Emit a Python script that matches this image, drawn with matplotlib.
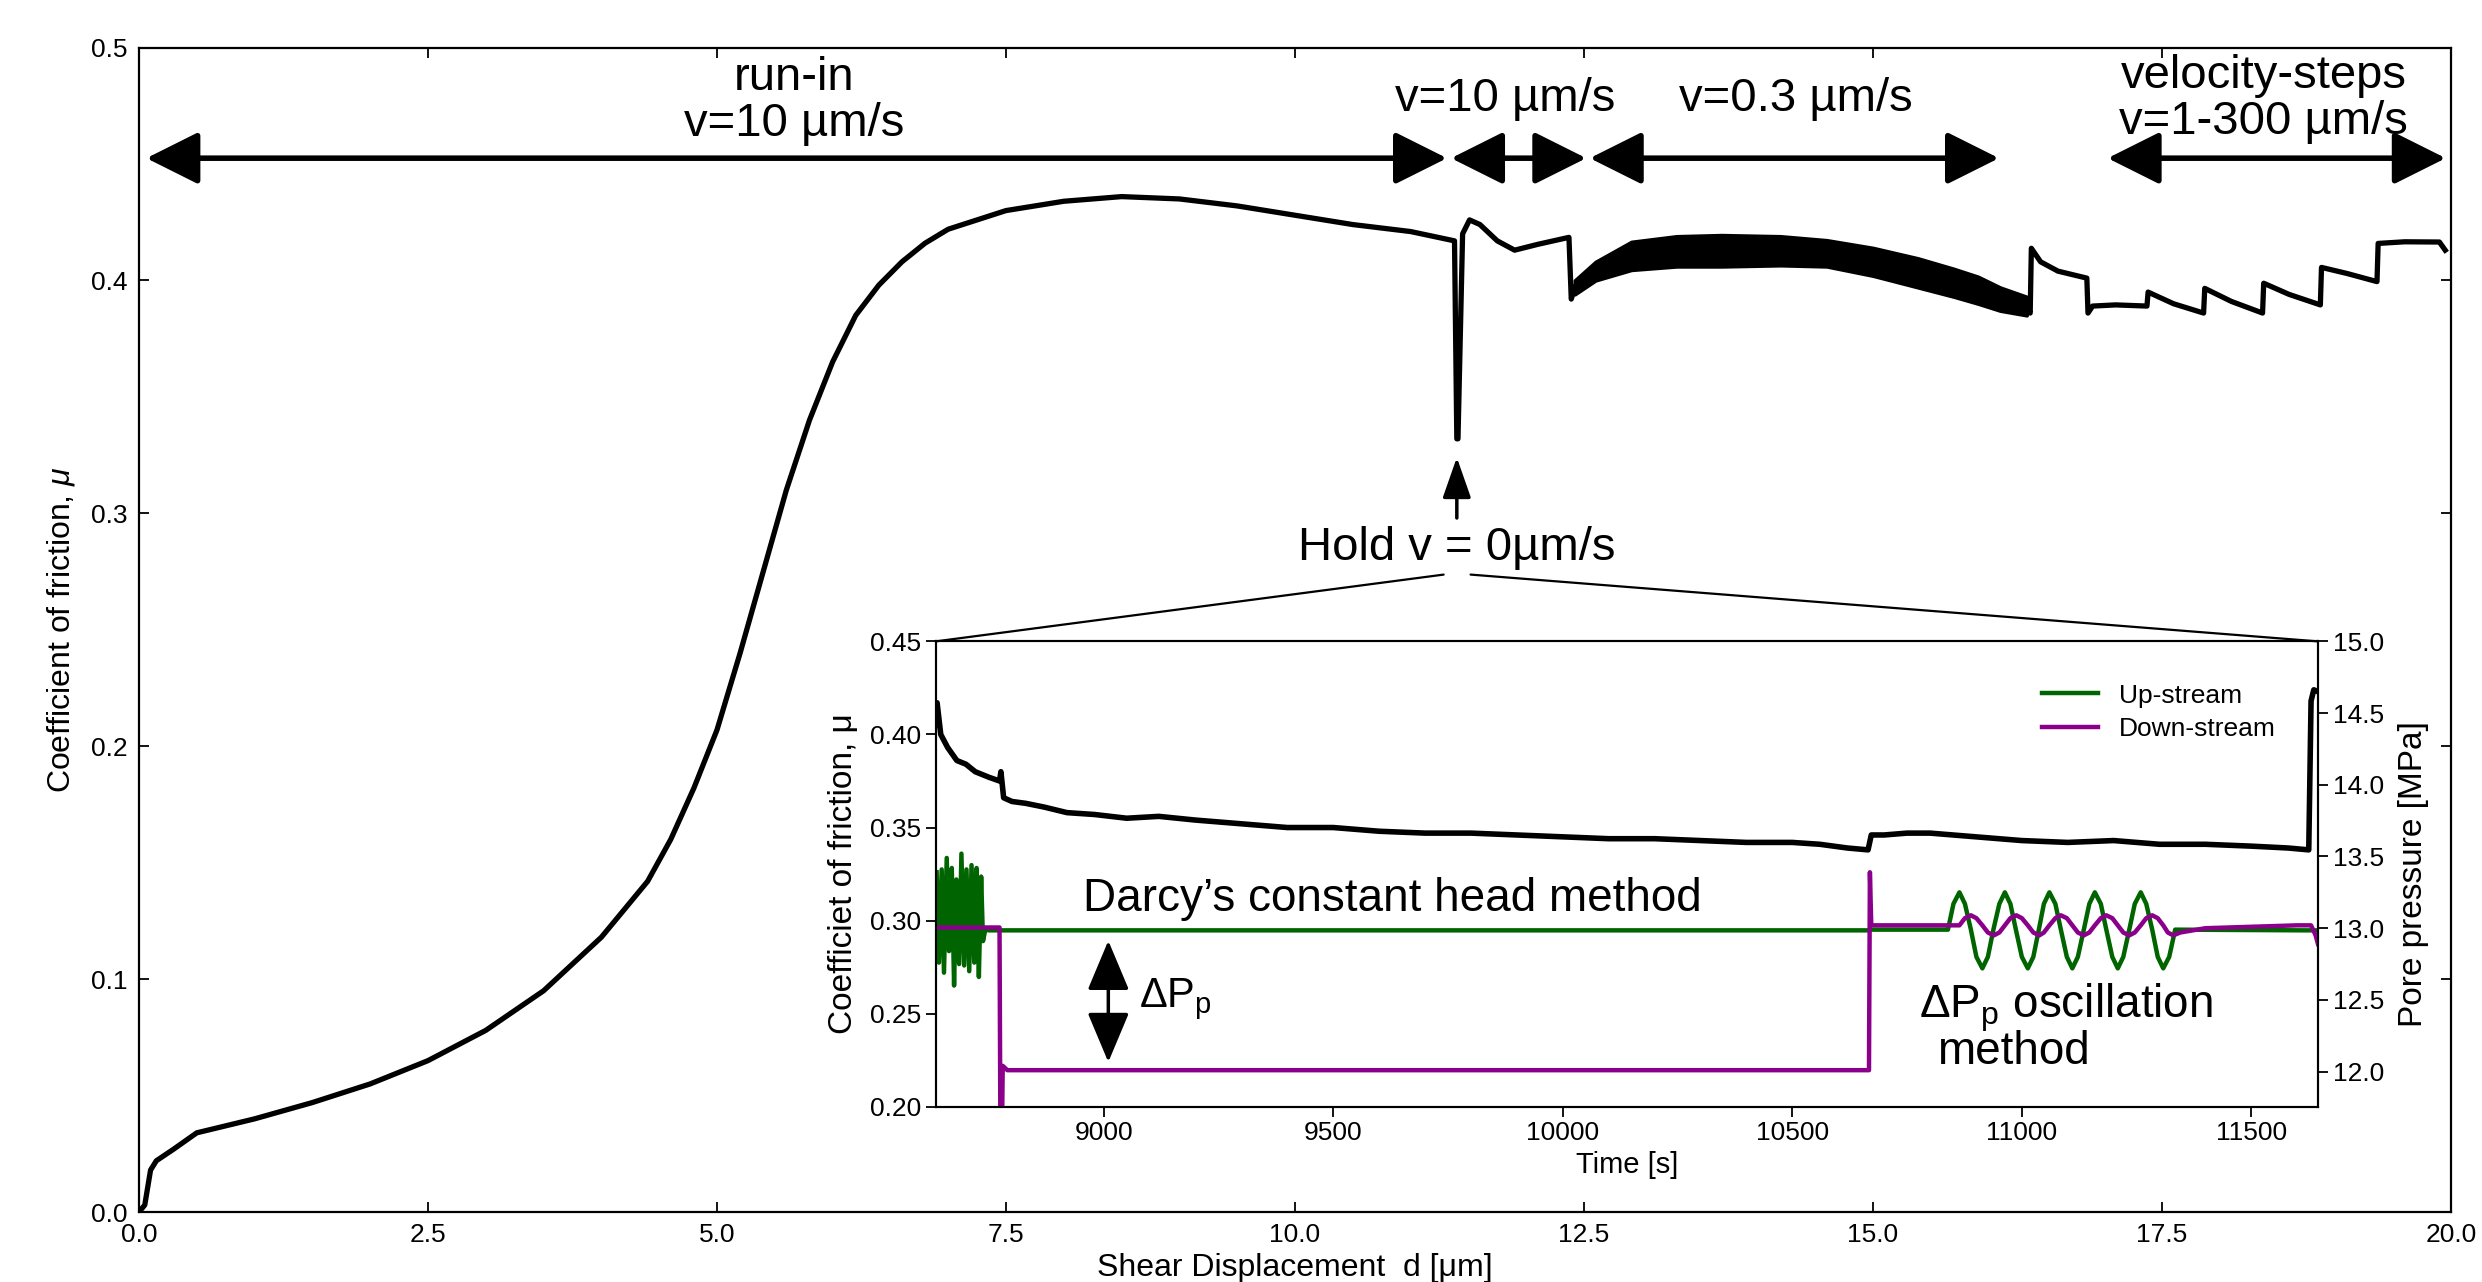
import matplotlib
matplotlib.use("Agg")
import matplotlib.pyplot as plt
from matplotlib.patches import ConnectionPatch
import numpy as np

plt.rcParams['font.family'] = ['Liberation Sans', 'DejaVu Sans']
plt.rcParams['mathtext.fontset'] = 'custom'
plt.rcParams['mathtext.rm'] = 'Liberation Sans'
plt.rcParams['mathtext.it'] = 'Liberation Sans:italic'

# ---- main curve: friction vs shear displacement
disp = [0, 0.05, 0.1, 0.15, 0.3, 0.5, 0.75, 1.0, 1.5, 2.0, 2.5, 3.0, 3.5, 4.0, 4.4, 4.6,
        4.8, 5.0, 5.2, 5.4, 5.6, 5.8, 6.0, 6.2, 6.4, 6.6, 6.8, 7.0, 7.5, 8.0, 8.5, 9.0,
        9.5, 10.0, 10.5, 11.0, 11.38,
        11.40, 11.41, 11.45, 11.51, 11.6, 11.75, 11.9, 12.1, 12.37, 12.39, 12.42]
mu = [0, 0.003, 0.018, 0.022, 0.027, 0.034, 0.037, 0.040, 0.047, 0.055, 0.065, 0.078, 0.095,
      0.118, 0.142, 0.160, 0.182, 0.207, 0.240, 0.275, 0.310, 0.340, 0.365, 0.385, 0.398,
      0.408, 0.416, 0.422, 0.430, 0.434, 0.436, 0.435, 0.432, 0.428, 0.424, 0.421, 0.417,
      0.332, 0.332, 0.420, 0.426, 0.424, 0.417, 0.413, 0.4155, 0.4185, 0.392, 0.397]

# slow (v=0.3) section shows a thick oscillating band
band_disp = [12.42, 12.6, 12.91, 13.3, 13.69, 14.2, 14.6, 15.0, 15.39, 15.7, 15.91, 16.1, 16.33]
band_lo = [0.394, 0.400, 0.4045, 0.406, 0.406, 0.4065, 0.406, 0.402, 0.397, 0.393, 0.390, 0.387, 0.385]
band_hi = [0.400, 0.408, 0.4166, 0.419, 0.4195, 0.419, 0.4173, 0.414, 0.4095, 0.405, 0.4016, 0.397, 0.393]

# velocity steps
steps_disp = [16.33, 16.36, 16.37, 16.45, 16.6, 16.85, 16.86, 16.9, 17.1, 17.37, 17.38, 17.6,
              17.86, 17.87, 18.1, 18.37, 18.38, 18.6, 18.87, 18.88, 19.1, 19.36, 19.37, 19.6,
              19.9, 19.95]
steps_mu = [0.389, 0.386, 0.4138, 0.408, 0.404, 0.401, 0.386, 0.389, 0.3895, 0.389, 0.395, 0.390,
            0.386, 0.3966, 0.391, 0.386, 0.3988, 0.394, 0.3895, 0.4056, 0.403, 0.3995, 0.4159,
            0.4166, 0.4165, 0.413]

# ---- inset: friction during hold vs time
t_fric = [8634, 8637, 8645, 8660, 8680, 8700, 8720, 8750, 8773, 8776, 8782, 8800, 8830, 8870,
          8920, 8980, 9050, 9120, 9200, 9300, 9400, 9500, 9600, 9700, 9800, 9900, 10000, 10100,
          10200, 10300, 10400, 10500, 10560, 10620, 10665, 10672, 10700, 10750, 10800, 10900,
          11000, 11100, 11200, 11300, 11400, 11500, 11580, 11625, 11630, 11636, 11645]
mu_fric = [0.405, 0.417, 0.400, 0.393, 0.386, 0.384, 0.380, 0.377, 0.375, 0.380, 0.366, 0.364,
           0.363, 0.361, 0.358, 0.357, 0.355, 0.356, 0.354, 0.352, 0.350, 0.350, 0.348, 0.347,
           0.347, 0.346, 0.345, 0.344, 0.344, 0.343, 0.342, 0.342, 0.341, 0.339, 0.338, 0.346,
           0.346, 0.347, 0.347, 0.345, 0.343, 0.342, 0.343, 0.341, 0.341, 0.340, 0.339, 0.338,
           0.418, 0.424, 0.423]

# up-stream pore pressure [MPa]
t_up = [8636, 8641, 8647, 8652, 8658, 8663, 8669, 8674, 8679, 8685, 8690, 8696, 8701, 8707,
        8712, 8718, 8723, 8728, 8733, 8737, 8742, 8750, 10668, 10672,
        10839, 10851, 10864, 10876, 10889, 10901, 10914, 10926, 10938, 10951, 10963, 10975,
        10987, 11000, 11013, 11025, 11037, 11048, 11060, 11073, 11085, 11098, 11110, 11122,
        11135, 11147, 11159, 11172, 11184, 11197, 11209, 11221, 11234, 11246, 11259, 11271,
        11284, 11296, 11308, 11321, 11334, 11620, 11640]
p_up = [13.39, 12.76, 13.41, 12.69, 13.49, 12.84, 13.42, 12.60, 13.34, 12.75, 13.52, 12.74,
        13.41, 12.70, 13.44, 12.76, 13.42, 12.66, 13.36, 12.91, 12.99, 12.985, 12.985, 12.99,
        12.99, 13.17, 13.25, 13.17, 12.99, 12.80, 12.72, 12.80, 12.99, 13.17, 13.25, 13.17,
        12.99, 12.80, 12.72, 12.80, 12.99, 13.17, 13.25, 13.17, 12.99, 12.80, 12.72, 12.80,
        12.99, 13.17, 13.25, 13.17, 12.99, 12.80, 12.72, 12.80, 12.99, 13.17, 13.25, 13.17,
        12.99, 12.80, 12.72, 12.80, 12.99, 12.985, 12.985]

# down-stream pore pressure [MPa]
t_down = [8634, 8773, 8775, 8778, 8780, 8790, 10667, 10669, 10672, 10680,
          10850, 10864, 10876, 10889, 10901, 10914, 10926, 10939, 10951, 10963, 10975, 10988,
          11000, 11013, 11025, 11038, 11048, 11060, 11073, 11085, 11098, 11110, 11122, 11135,
          11147, 11159, 11172, 11184, 11197, 11209, 11221, 11234, 11246, 11259, 11271, 11284,
          11296, 11308, 11318, 11330, 11345, 11400, 11500, 11600, 11630, 11640, 11645]
p_down = [13.005, 13.005, 11.5, 11.5, 12.04, 12.01, 12.01, 13.39, 13.02, 13.02,
          13.02, 13.02, 13.07, 13.09, 13.07, 13.02, 12.97, 12.95, 12.97, 13.02, 13.07, 13.09,
          13.07, 13.02, 12.97, 12.95, 12.97, 13.02, 13.07, 13.09, 13.07, 13.02, 12.97, 12.95,
          12.97, 13.02, 13.07, 13.09, 13.07, 13.02, 12.97, 12.95, 12.97, 13.02, 13.07, 13.09,
          13.07, 13.02, 12.97, 12.95, 12.97, 13.00, 13.01, 13.02, 13.02, 12.95, 12.89]

x_ticks = [0, 2.5, 5, 7.5, 10, 12.5, 15, 17.5, 20]
y_ticks = [0, 0.1, 0.2, 0.3, 0.4, 0.5]
t_ticks = [9000, 9500, 10000, 10500, 11000, 11500]
mu_ticks = [0.20, 0.25, 0.30, 0.35, 0.40, 0.45]
p_ticks = [12.0, 12.5, 13.0, 13.5, 14.0, 14.5, 15.0]

# (label, left end, right end, text x, text y)
regimes = [("run-in\nv=10 µm/s", 0.064, 11.315, 5.67, 0.477),
           ("v=10 µm/s", 11.35, 12.52, 11.82, 0.478),
           ("v=0.3 µm/s", 12.55, 16.09, 14.33, 0.478),
           ("velocity-steps\nv=1-300 µm/s", 17.03, 19.955, 18.38, 0.478)]
arrow_y = 0.4525

green = '#006400'
purple = '#8B008B'

fig = plt.figure(figsize=(24.82, 12.82), dpi=100)
ax = fig.add_axes([0.056, 0.0546, 0.9315, 0.9083])

ax.plot(disp, mu, color='k', lw=3.8)
ax.fill_between(band_disp, band_lo, band_hi, color='k', lw=2.5)
ax.plot(steps_disp, steps_mu, color='k', lw=3.8)

ax.set_xlim(0, 20)
ax.set_ylim(0, 0.5)
ax.set_xticks(x_ticks)
ax.set_xticklabels(['%.1f' % v for v in x_ticks])
ax.set_yticks(y_ticks)
ax.set_yticklabels(['%.1f' % v for v in y_ticks])
ax.tick_params(direction='in', top=True, right=True, length=7, width=1.3, labelsize=19, pad=8)
for s in ax.spines.values():
    s.set_linewidth(1.6)
ax.set_xlabel('Shear Displacement  d [μm]', fontsize=23, labelpad=4)
ax.set_ylabel('Coefficient of friction, $\\mu$', fontsize=23, labelpad=10)

# regime arrows along the top
for label, x0, x1, tx, ty in regimes:
    ax.annotate('', xy=(x1, arrow_y), xytext=(x0, arrow_y),
                arrowprops=dict(arrowstyle='<|-|>,head_length=0.9,head_width=0.45',
                                mutation_scale=36, lw=4, color='k', shrinkA=0, shrinkB=0))
    ax.text(tx, ty, label, fontsize=34, ha='center', va='center', linespacing=1.05)

# hold marker
ax.annotate('', xy=(11.40, 0.324), xytext=(11.40, 0.298),
            arrowprops=dict(arrowstyle='-|>,head_length=1.0,head_width=0.35',
                            mutation_scale=25, lw=2.5, color='k', shrinkA=0, shrinkB=0))
ax.text(11.40, 0.285, 'Hold v = 0µm/s', fontsize=34, ha='center', va='center')

# ---- inset
axin = fig.add_axes([0.377, 0.1367, 0.5569, 0.363])
axin.plot(t_fric, mu_fric, color='k', lw=4)
axin.set_xlim(8634, 11645)
axin.set_ylim(0.2, 0.45)
axin.set_xticks(t_ticks)
axin.set_yticks(mu_ticks)
axin.set_yticklabels(['%.2f' % v for v in mu_ticks])
axin.tick_params(labelsize=19, length=7, width=1.3)
axin.set_xlabel('Time [s]', fontsize=21, labelpad=4)
axin.set_ylabel('Coefficiet of friction, μ', fontsize=24, labelpad=8)

axp = axin.twinx()
axp.plot(t_up, p_up, color=green, lw=3.2, label='Up-stream')
axp.plot(t_down, p_down, color=purple, lw=3.2, label='Down-stream')
axp.set_ylim(11.755, 15.0)
axp.set_yticks(p_ticks)
axp.set_yticklabels(['%.1f' % v for v in p_ticks])
axp.tick_params(labelsize=19, length=7, width=1.3)
axp.set_ylabel('Pore pressure [MPa]', fontsize=24, labelpad=10)
axp.legend(loc='upper right', frameon=False, fontsize=19, handlelength=2.1,
           labelspacing=0.35, borderaxespad=1.2)
for a in (axin, axp):
    for s in a.spines.values():
        s.set_linewidth(1.5)

axin.text(8955, 0.305, 'Darcy’s constant head method', fontsize=33, ha='left', va='baseline')
axin.annotate('', xy=(9010, 0.2892), xytext=(9010, 0.224),
              arrowprops=dict(arrowstyle='<|-|>,head_length=1.0,head_width=0.42',
                              mutation_scale=31, lw=2.5, color='k', shrinkA=0, shrinkB=0))
axin.text(9076, 0.2537, 'ΔP$_\\mathregular{p}$', fontsize=30, ha='left', va='baseline')
axin.text(10775, 0.2478, 'ΔP$_\\mathregular{p}$ oscillation', fontsize=33, ha='left', va='baseline')
axin.text(10982, 0.223, 'method', fontsize=33, ha='center', va='baseline')

# zoom lines from the hold label to the inset corners
for corner, px in ((0, 11.286), (1, 11.519)):
    con = ConnectionPatch(xyA=(corner, 1), coordsA=axin.transAxes,
                          xyB=(px, 0.2737), coordsB=ax.transData, color='k', lw=1.6)
    fig.add_artist(con)

fig.savefig('out.png', dpi=100)
